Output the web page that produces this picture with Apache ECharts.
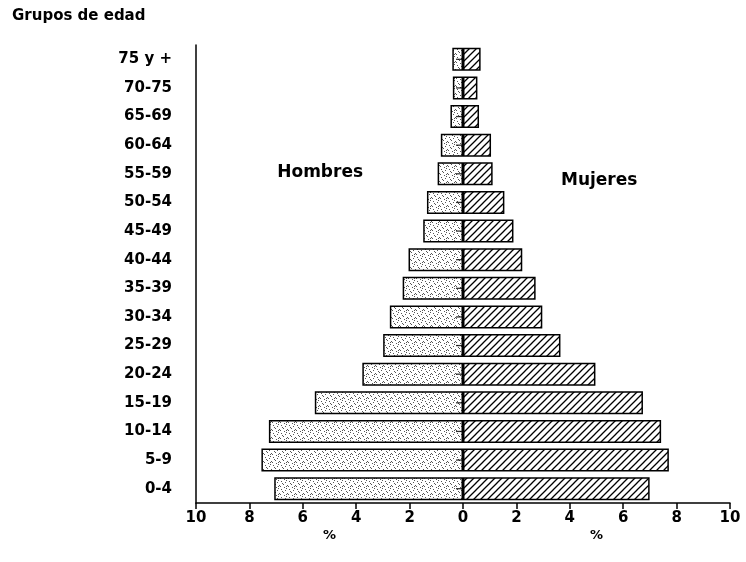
<!DOCTYPE html>
<html>
<head>
<meta charset="utf-8">
<script src="https://cdn.jsdelivr.net/npm/echarts@6/dist/echarts.min.js"></script>
<style>html,body{margin:0;padding:0;background:#fff}#c{width:746px;height:562px}</style>
</head>
<body>
<div id="c"></div>
<script>
const categories = ['0-4','5-9','10-14','15-19','20-24','25-29','30-34','35-39','40-44','45-49','50-54','55-59','60-64','65-69','70-75','75 y +'];
const hombres = [7.07, 7.55, 7.27, 5.55, 3.77, 2.99, 2.74, 2.26, 2.04, 1.49, 1.35, 0.95, 0.83, 0.47, 0.38, 0.40];
const mujeres = [6.99, 7.71, 7.42, 6.74, 4.96, 3.65, 2.97, 2.72, 2.22, 1.89, 1.55, 1.11, 1.05, 0.60, 0.54, 0.66];
const xTicks = [-10, -8, -6, -4, -2, 0, 2, 4, 6, 8, 10];

const FONT = '"DejaVu Sans", "Liberation Sans", Arial, sans-serif';

function dotPattern() {
  const c = document.createElement('canvas');
  c.width = 8; c.height = 8;
  const g = c.getContext('2d');
  g.fillStyle = '#fff'; g.fillRect(0, 0, 8, 8);
  g.fillStyle = '#555';
  [[1,1],[5,2],[3,4],[7,5],[0,6],[4,7],[6,0],[2,3],[6,6]].forEach(p => g.fillRect(p[0], p[1], 1, 1));
  return c;
}
function hatchPattern() {
  const c = document.createElement('canvas');
  const s = 7;
  c.width = s; c.height = s;
  const g = c.getContext('2d');
  g.fillStyle = '#fff'; g.fillRect(0, 0, s, s);
  g.strokeStyle = '#000'; g.lineWidth = 1.3;
  g.beginPath();
  g.moveTo(-1, s + 1); g.lineTo(s + 1, -1);
  g.moveTo(-1, 1); g.lineTo(1, -1);
  g.moveTo(s - 1, s + 1); g.lineTo(s + 1, s - 1);
  g.stroke();
  return c;
}

const chart = echarts.init(document.getElementById('c'), null, {renderer: 'canvas'});
const option = {
  backgroundColor: '#fff',
  animation: false,
  grid: {left: 196, right: 16, top: 45, bottom: 59, containLabel: false},
  xAxis: {
    type: 'value', min: -10, max: 10, interval: 2,
    axisLine: {show: true, onZero: false, lineStyle: {color: '#000', width: 1.5}},
    axisTick: {show: true, length: 6, lineStyle: {color: '#000', width: 1.5}},
    splitLine: {show: false},
    axisLabel: {
      color: '#000', fontFamily: FONT, fontWeight: 'bold', fontSize: 15, margin: 8,
      formatter: v => String(Math.abs(v))
    }
  },
  yAxis: {
    type: 'category', data: categories,
    axisLine: {show: true, onZero: false, lineStyle: {color: '#000', width: 1.5}},
    axisTick: {show: false},
    axisLabel: {color: '#000', fontFamily: FONT, fontWeight: 'bold', fontSize: 15, margin: 24}
  },
  series: [{
    name: 'Hombres', type: 'bar', stack: 'p', barWidth: '80%',
    data: hombres.map(v => -v),
    itemStyle: {color: {image: dotPattern(), repeat: 'repeat'}, borderColor: '#000', borderWidth: 1.5}
  }, {
    name: 'Mujeres', type: 'bar', stack: 'p', barWidth: '80%',
    data: mujeres,
    itemStyle: {color: {image: hatchPattern(), repeat: 'repeat'}, borderColor: '#000', borderWidth: 1.5}
  }, {
    name: 'ticks', type: 'scatter', z: 10, silent: true,
    data: categories.map(c => [0, c]),
    symbol: 'rect', symbolSize: [7, 1.3], symbolOffset: [-3.5, 0],
    itemStyle: {color: '#000'}
  }]
};
chart.setOption(option);

function px(x, catPos) {
  const i0 = Math.floor(catPos), f = catPos - i0;
  const a = chart.convertToPixel({gridIndex: 0}, [x, i0]);
  const b = chart.convertToPixel({gridIndex: 0}, [x, i0 + 1]);
  return [a[0], a[1] + (b[1] - a[1]) * f];
}
const pHom = px(-5.35, 11.05);
const pMuj = px(5.1, 10.75);
const pPctL = px(-5, -1.65);
const pPctR = px(5, -1.65);
const txt = (p, t, size) => ({
  type: 'text', x: p[0], y: p[1],
  style: {text: t, fill: '#000', font: 'bold ' + size + 'px ' + FONT, align: 'center', verticalAlign: 'middle'}
});
chart.setOption({
  graphic: [
    {type: 'text', left: 12, top: 9, style: {text: 'Grupos de edad', fill: '#000', font: 'bold 15px ' + FONT}},
    txt(pHom, 'Hombres', 17),
    txt(pMuj, 'Mujeres', 17),
    txt(pPctL, '%', 13),
    txt(pPctR, '%', 13)
  ]
});
</script>
</body>
</html>
